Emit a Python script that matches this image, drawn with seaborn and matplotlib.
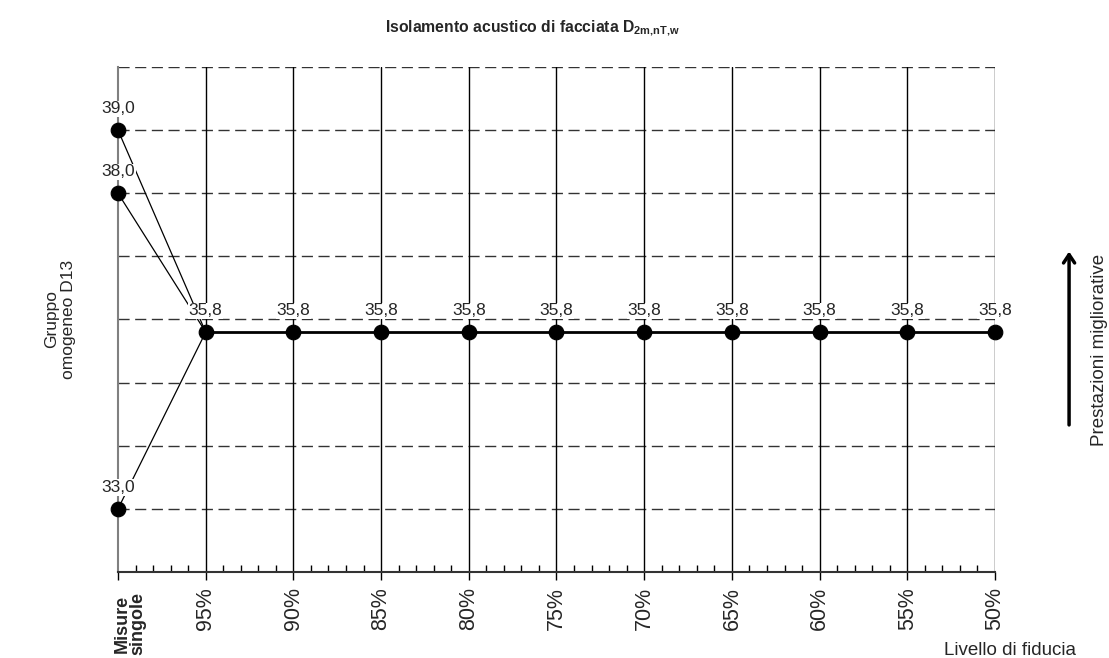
import matplotlib
matplotlib.use("Agg")
import matplotlib.pyplot as plt
import seaborn as sns
import pandas as pd
from matplotlib.ticker import MultipleLocator

# dati
categorie = ["Misure\nsingole", "95%", "90%", "85%", "80%", "75%", "70%", "65%", "60%", "55%", "50%"]
misure_singole = [39.0, 38.0, 33.0]
livelli = [35.8, 35.8, 35.8, 35.8, 35.8, 35.8, 35.8, 35.8, 35.8, 35.8]

sns.set_style("white")
plt.rcParams['font.family'] = ['Liberation Sans', 'DejaVu Sans']
plt.rcParams['mathtext.fontset'] = 'custom'
plt.rcParams['mathtext.rm'] = 'Liberation Sans'
plt.rcParams['mathtext.bf'] = 'Liberation Sans:bold'

fig = plt.figure(figsize=(11.09, 6.58), dpi=100)
ax = fig.add_axes([0.1064, 0.1307, 0.7908, 0.7675])

x_pos = list(range(len(categorie)))
df_liv = pd.DataFrame({"x": x_pos[1:], "y": livelli})
df_sing = pd.DataFrame({"x": [0] * len(misure_singole), "y": misure_singole})

# griglia orizzontale tratteggiata
for yv in range(33, 41):
    ax.axhline(yv, color="#333333", lw=1.0, ls=(0, (8, 4)), zorder=1)
# linee verticali
for xv in x_pos[1:]:
    ax.axvline(xv, color="black", lw=1.0, zorder=1)

# collegamenti misure singole -> 95%
for v in misure_singole:
    seg = pd.DataFrame({"x": [0, 1], "y": [v, livelli[0]]})
    sns.lineplot(data=seg, x="x", y="y", color="black", lw=0.9, ax=ax, zorder=2)

sns.lineplot(data=df_liv, x="x", y="y", color="black", lw=2.0, ax=ax, zorder=3)
sns.scatterplot(data=df_liv, x="x", y="y", color="black", s=110, edgecolor="black", ax=ax, zorder=4,
                clip_on=False)
sns.scatterplot(data=df_sing, x="x", y="y", color="black", s=110, edgecolor="black", ax=ax, zorder=4,
                clip_on=False)

# etichette valori
for xv, yv in list(zip(df_sing["x"], df_sing["y"])) + list(zip(df_liv["x"], df_liv["y"])):
    ax.annotate(f"{yv:.1f}".replace(".", ","), (xv, yv), xytext=(0, 10), textcoords="offset points",
                ha="center", va="bottom", fontsize=12.5, zorder=5, annotation_clip=False,
                bbox=dict(facecolor="white", edgecolor="none", pad=0.5))

ax.set_xlim(0, 10)
ax.set_ylim(32, 40)
ax.set_xticks(x_pos)
ax.set_xticklabels([""] + categorie[1:], rotation=90, fontsize=15.5)
# prima etichetta (in grassetto, spostata a destra come nell'originale)
ax.annotate(categorie[0], xy=(x_pos[0], 0), xycoords=("data", "axes fraction"), xytext=(8.6, -14.5),
            textcoords="offset points", rotation=90, ha="center", va="top", fontsize=13,
            fontweight="bold", linespacing=0.95, annotation_clip=False)
ax.xaxis.set_minor_locator(MultipleLocator(0.2))
ax.tick_params(axis="x", which="major", direction="out", length=6, width=1, color="black", pad=5,
               bottom=True)
ax.tick_params(axis="x", which="minor", direction="in", length=5, width=1, color="black", bottom=True)
ax.set_yticks([])
ax.set_xlabel("")
ax.set_ylabel("Gruppo\nomogeneo D13", fontsize=12.5, labelpad=30)

for s in ["top", "right"]:
    ax.spines[s].set_visible(False)
ax.spines["left"].set_color("#808080")
ax.spines["left"].set_linewidth(1.5)
ax.spines["bottom"].set_color("#333333")
ax.spines["bottom"].set_linewidth(1.5)

fig.text(0.48, 0.951, r"Isolamento acustico di facciata $\mathbf{D_{2m{,}nT{,}w}}$", ha="center",
         va="baseline", fontsize=11.3, fontweight="bold")
fig.text(0.911, 0.012, "Livello di fiducia", ha="center", va="center", fontsize=13.5)
fig.text(0.991, 0.468, "Prestazioni migliorative", ha="center", va="center", rotation=90, fontsize=13.5)
fig.add_artist(matplotlib.patches.FancyArrowPatch((0.964, 0.35), (0.964, 0.622), transform=fig.transFigure,
                                                  arrowstyle="->,head_length=6,head_width=4", lw=2.5,
                                                  color="black", mutation_scale=1))

fig.savefig("out.png", dpi=100)
